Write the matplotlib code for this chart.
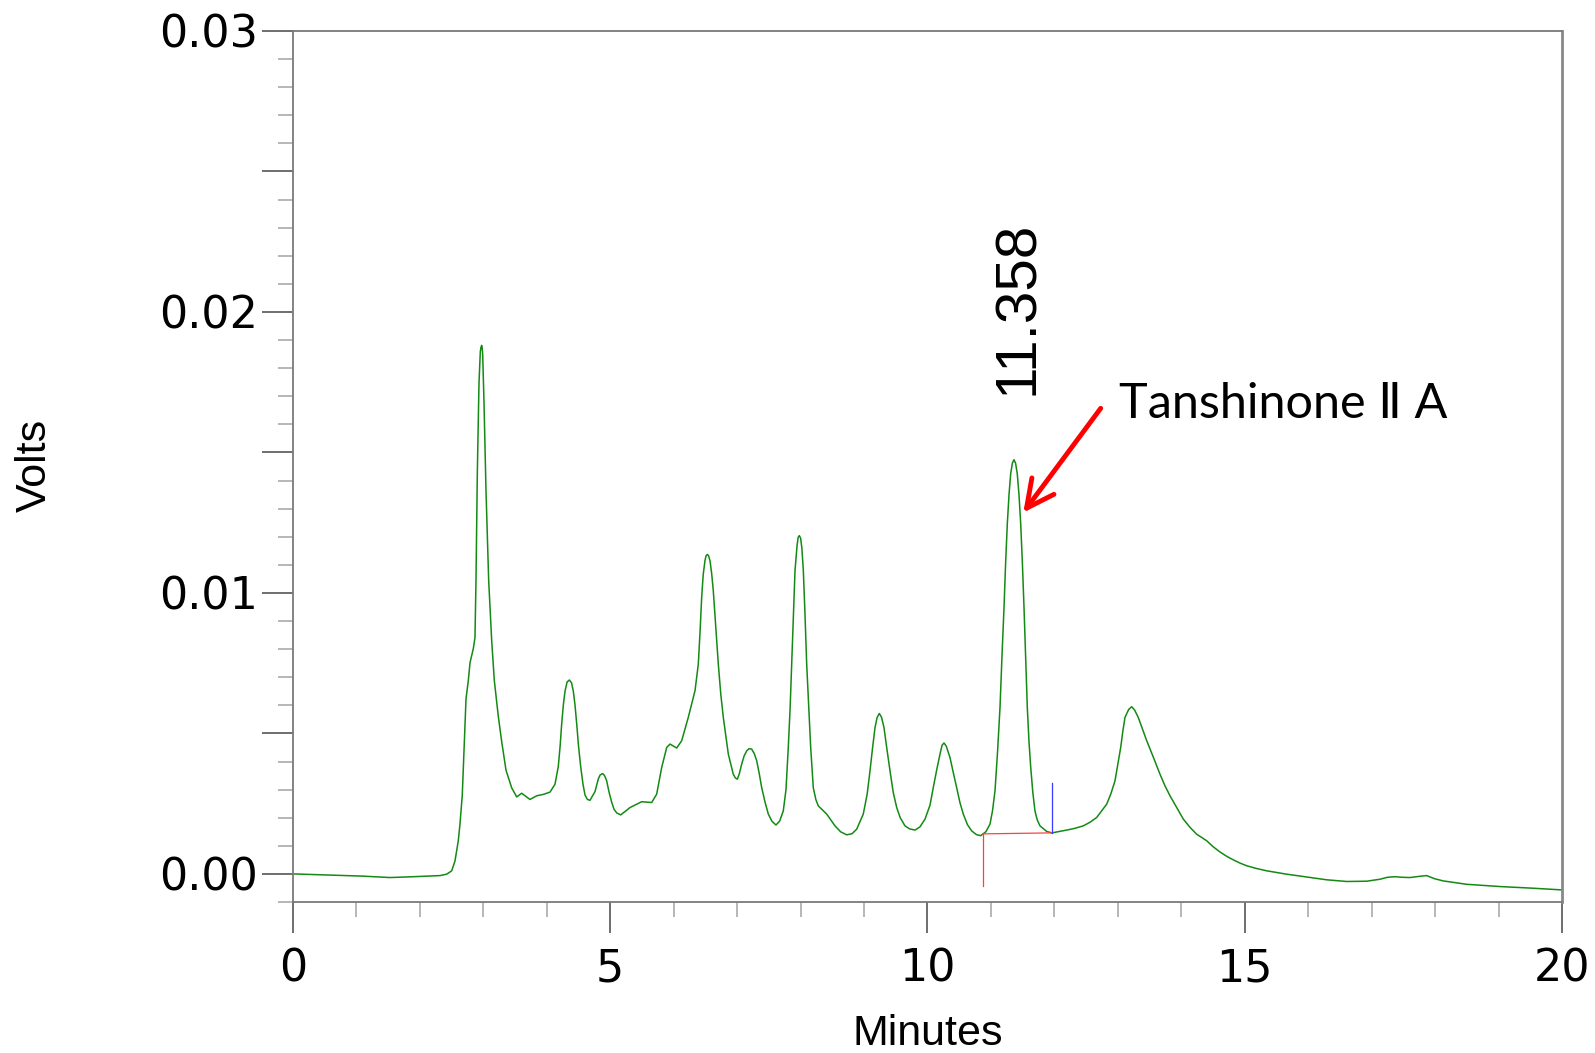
import matplotlib
matplotlib.use("Agg")
import matplotlib.pyplot as plt
from matplotlib.ticker import FixedLocator, FixedFormatter, MultipleLocator

# chromatogram trace (minutes, volts)
minutes = [0.000, 0.580, 1.108, 1.529, 1.896, 2.317, 2.422, 2.501, 2.553, 2.605,
           2.632, 2.668, 2.700, 2.727, 2.763, 2.790, 2.842, 2.868, 2.884, 2.905,
           2.931, 2.952, 2.963, 2.974, 2.982, 2.990, 3.010, 3.042, 3.084, 3.132,
           3.173, 3.236, 3.289, 3.357, 3.447, 3.526, 3.604, 3.735, 3.841, 3.945,
           4.050, 4.129, 4.181, 4.210, 4.235, 4.260, 4.287, 4.320, 4.355, 4.390,
           4.418, 4.445, 4.471, 4.500, 4.534, 4.570, 4.602, 4.640, 4.681, 4.760,
           4.812, 4.840, 4.881, 4.910, 4.944, 4.980, 5.023, 5.060, 5.102, 5.165,
           5.311, 5.496, 5.653, 5.732, 5.811, 5.890, 5.942, 6.047, 6.126, 6.230,
           6.336, 6.388, 6.415, 6.441, 6.465, 6.493, 6.510, 6.530, 6.550, 6.572,
           6.598, 6.624, 6.662, 6.703, 6.742, 6.782, 6.861, 6.939, 6.970, 7.003,
           7.035, 7.072, 7.110, 7.151, 7.190, 7.229, 7.270, 7.308, 7.350, 7.387,
           7.440, 7.491, 7.550, 7.612, 7.670, 7.727, 7.770, 7.806, 7.835, 7.860,
           7.888, 7.912, 7.945, 7.962, 7.980, 8.000, 8.020, 8.043, 8.070, 8.096,
           8.128, 8.159, 8.200, 8.240, 8.279, 8.411, 8.542, 8.630, 8.727, 8.810,
           8.884, 8.988, 9.050, 9.094, 9.135, 9.173, 9.205, 9.240, 9.275, 9.314,
           9.360, 9.409, 9.460, 9.515, 9.570, 9.645, 9.720, 9.803, 9.880, 9.961,
           10.040, 10.091, 10.145, 10.197, 10.230, 10.260, 10.295, 10.355, 10.405, 10.460,
           10.510, 10.564, 10.630, 10.697, 10.770, 10.839, 10.920, 10.985, 11.025, 11.064,
           11.103, 11.143, 11.175, 11.206, 11.232, 11.258, 11.285, 11.311, 11.338, 11.363,
           11.388, 11.415, 11.442, 11.469, 11.495, 11.521, 11.547, 11.573, 11.600, 11.627,
           11.660, 11.694, 11.730, 11.773, 11.879, 11.962, 12.194, 12.320, 12.456, 12.570,
           12.667, 12.824, 12.890, 12.955, 13.000, 13.045, 13.080, 13.113, 13.170, 13.218,
           13.265, 13.322, 13.390, 13.455, 13.560, 13.664, 13.740, 13.822, 13.930, 14.032,
           14.140, 14.243, 14.320, 14.400, 14.500, 14.610, 14.720, 14.820, 14.930, 15.031,
           15.190, 15.346, 15.500, 15.661, 15.976, 16.292, 16.607, 16.922, 17.131, 17.250,
           17.368, 17.480, 17.604, 17.740, 17.867, 17.990, 18.129, 18.498, 19.023, 19.548,
           20.000]
volts = [0.00000, -0.00004, -0.00008, -0.00013, -0.00010, -0.00006, -0.00001, 0.00011, 0.00046, 0.00118,
         0.00178, 0.00281, 0.00471, 0.00624, 0.00688, 0.00752, 0.00802, 0.00841, 0.01044, 0.01426,
         0.01744, 0.01858, 0.01875, 0.01881, 0.01872, 0.01846, 0.01680, 0.01362, 0.01044, 0.00828,
         0.00688, 0.00560, 0.00471, 0.00369, 0.00306, 0.00274, 0.00287, 0.00265, 0.00278, 0.00283,
         0.00291, 0.00319, 0.00382, 0.00455, 0.00535, 0.00600, 0.00650, 0.00683, 0.00690, 0.00680,
         0.00650, 0.00600, 0.00535, 0.00455, 0.00382, 0.00320, 0.00281, 0.00265, 0.00262, 0.00293,
         0.00338, 0.00352, 0.00357, 0.00350, 0.00331, 0.00292, 0.00255, 0.00230, 0.00217, 0.00210,
         0.00236, 0.00257, 0.00254, 0.00284, 0.00379, 0.00450, 0.00462, 0.00448, 0.00474, 0.00557,
         0.00652, 0.00747, 0.00860, 0.00984, 0.01065, 0.01115, 0.01132, 0.01137, 0.01132, 0.01115,
         0.01070, 0.01008, 0.00880, 0.00747, 0.00640, 0.00557, 0.00426, 0.00355, 0.00342, 0.00337,
         0.00357, 0.00391, 0.00420, 0.00438, 0.00446, 0.00444, 0.00428, 0.00403, 0.00355, 0.00307,
         0.00255, 0.00213, 0.00187, 0.00174, 0.00188, 0.00224, 0.00300, 0.00450, 0.00590, 0.00747,
         0.00920, 0.01080, 0.01170, 0.01198, 0.01204, 0.01195, 0.01160, 0.01080, 0.00920, 0.00747,
         0.00600, 0.00450, 0.00307, 0.00265, 0.00242, 0.00213, 0.00171, 0.00150, 0.00139, 0.00143,
         0.00159, 0.00213, 0.00285, 0.00367, 0.00450, 0.00521, 0.00556, 0.00571, 0.00558, 0.00521,
         0.00445, 0.00367, 0.00290, 0.00236, 0.00200, 0.00171, 0.00160, 0.00156, 0.00167, 0.00195,
         0.00245, 0.00307, 0.00370, 0.00426, 0.00458, 0.00466, 0.00455, 0.00414, 0.00362, 0.00307,
         0.00255, 0.00213, 0.00175, 0.00153, 0.00140, 0.00136, 0.00150, 0.00177, 0.00225, 0.00296,
         0.00430, 0.00593, 0.00780, 0.00949, 0.01110, 0.01246, 0.01350, 0.01424, 0.01462, 0.01474,
         0.01462, 0.01424, 0.01350, 0.01246, 0.01110, 0.00949, 0.00770, 0.00593, 0.00470, 0.00379,
         0.00290, 0.00224, 0.00192, 0.00171, 0.00151, 0.00146, 0.00156, 0.00162, 0.00171, 0.00185,
         0.00201, 0.00248, 0.00285, 0.00331, 0.00390, 0.00450, 0.00510, 0.00557, 0.00585, 0.00595,
         0.00583, 0.00557, 0.00515, 0.00474, 0.00415, 0.00355, 0.00315, 0.00278, 0.00235, 0.00195,
         0.00165, 0.00141, 0.00130, 0.00118, 0.00097, 0.00078, 0.00062, 0.00050, 0.00038, 0.00029,
         0.00019, 0.00011, 0.00005, -0.00001, -0.00011, -0.00021, -0.00027, -0.00026, -0.00019, -0.00012,
         -0.00010, -0.00012, -0.00013, -0.00009, -0.00006, -0.00017, -0.00025, -0.00037, -0.00045, -0.00051,
         -0.00057]

# integration marks of the labelled peak
peak_start = (10.87, 0.001425)
peak_end = (11.97, 0.00146)
start_drop = -0.00043
end_rise = 0.00324

peak_rt = "11.358"
peak_name = "Tanshinone \u2161 A"

xticks = [0, 5, 10, 15, 20]
yticks = [0.0, 0.005, 0.01, 0.015, 0.02, 0.025, 0.03]
ylabels = ["0.00", "", "0.01", "", "0.02", "", "0.03"]

fig = plt.figure(figsize=(15.95, 10.53), dpi=100)
ax = fig.add_axes([0.1837, 0.1434, 0.7956, 0.8272])

ax.plot(minutes, volts, color="#138a13", lw=1.1, solid_joinstyle="round")

# baseline / integration marks
ax.plot([peak_start[0], peak_start[0]], [start_drop, peak_start[1]], color="#ff4040", lw=0.9)
ax.plot([peak_start[0], peak_end[0]], [peak_start[1], peak_end[1]], color="#ff4040", lw=0.9)
ax.plot([peak_end[0], peak_end[0]], [peak_end[1], end_rise], color="#3a3aff", lw=0.9)

ax.set_xlim(0, 20)
ax.set_ylim(-0.001, 0.03)

ax.xaxis.set_major_locator(FixedLocator(xticks))
ax.xaxis.set_minor_locator(MultipleLocator(1))
ax.yaxis.set_major_locator(FixedLocator(yticks))
ax.yaxis.set_major_formatter(FixedFormatter(ylabels))
ax.yaxis.set_minor_locator(MultipleLocator(0.001))

ax.tick_params(axis="both", which="major", direction="out", length=22, width=1.2,
               color="#555555", labelsize=32, pad=3)
ax.tick_params(axis="both", which="minor", direction="out", length=11, width=1.2,
               color="#aaaaaa")
ax.tick_params(axis="x", which="major", pad=11)
for lab in ax.get_xticklabels() + ax.get_yticklabels():
    lab.set_fontfamily("DejaVu Sans")

# the half-way ticks are long but light
for tk, val in zip(ax.yaxis.get_major_ticks(), yticks):
    if round(val / 0.01, 6) % 1 != 0:
        tk.tick1line.set_color("#aaaaaa")

for side in ["left", "bottom", "top"]:
    ax.spines[side].set_color("#7a7a7a")
    ax.spines[side].set_linewidth(1.3)
ax.spines["right"].set_color("#888888")
ax.spines["right"].set_linewidth(2.0)

ax.text(11.42, 0.01703, peak_rt, rotation=90, ha="center", va="bottom",
        fontsize=42, family="Liberation Sans")
ax.text(13.02, 0.01621, peak_name, ha="left", va="baseline", fontsize=35,
        family=["Lato", "DejaVu Sans"])
ax.annotate("", xy=(11.51, 0.01286), xytext=(12.73, 0.01657),
            arrowprops=dict(arrowstyle="->,head_length=0.9,head_width=0.45",
                            color="red", lw=3.5, mutation_scale=22,
                            shrinkA=0, shrinkB=0))

fig.text(0.5815, 1 - 1045 / 1053, "Minutes", ha="center", va="baseline",
         fontsize=31, family="Liberation Sans")
fig.text(34.6 / 1595, 1 - 465 / 1053, "Volts", rotation=90, ha="center", va="center",
         fontsize=31, family="Liberation Sans")

fig.savefig("out.png", dpi=100)
